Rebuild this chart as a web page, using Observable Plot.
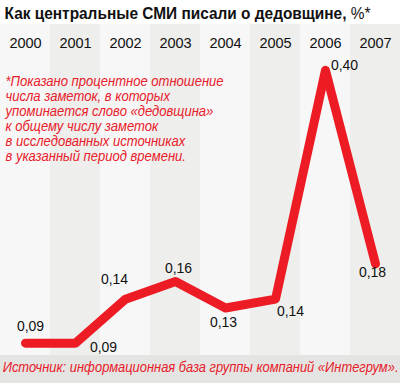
<!DOCTYPE html>
<html>
<head>
<meta charset="utf-8">
<script src="https://cdn.jsdelivr.net/npm/d3@7"></script>
<script src="https://cdn.jsdelivr.net/npm/@observablehq/plot@0.6"></script>
<style>
  html, body { margin: 0; padding: 0; background: #fff; }
  #wrap { width: 400px; height: 383px; overflow: hidden; font-family: 'Liberation Sans', Arial, sans-serif; }
  #title { height: 24px; overflow: visible; white-space: nowrap; }
  #title .inner { display: inline-block; transform: scaleX(0.907); transform-origin: 0 0; padding-left: 5px; font-size: 17px; line-height: 28px; font-weight: bold; color: #111; }
  #title span { font-weight: normal; }
  #chart svg { display: block; }
  #footer { height: 28px; background: #e4e4e2; white-space: nowrap; overflow: hidden; }
  #footer .inner { display: inline-block; transform: scaleX(0.89); transform-origin: 0 0; padding-left: 3px; color: #e8202a; font-style: italic; font-size: 14.5px; line-height: 25px; }
</style>
</head>
<body>
<div id="wrap">
  <div id="title"><div class="inner">Как центральные СМИ писали о дедовщине, <span>%*</span></div></div>
  <div id="chart"></div>
  <div id="footer"><div class="inner">Источник: информационная база группы компаний «Интегрум».</div></div>
</div>
<script>
const years = [2000, 2001, 2002, 2003, 2004, 2005, 2006, 2007];
const shares = [0.09, 0.09, 0.14, 0.16, 0.13, 0.14, 0.40, 0.18];
const note = "*Показано процентное отношение\nчисла заметок, в которых\nупоминается слово «дедовщина»\nк общему числу заметок\nв исследованных источниках\nв указанный период времени.";

const data = years.map((year, i) => ({year, share: shares[i]}));
const fmt = v => v.toFixed(2).replace(".", ",");

// label offsets (dx, dy) per year, layout only
const offsets = [[5, -17], [28, 4.5], [-11, -20], [3, -13], [-2, 15], [15, 12], [19, -4.5], [-3, 9]];

const labelMarks = years.map((yr, i) => Plot.text(data.filter(d => d.year === yr), {
  x: "year", y: "share", text: d => fmt(d.share),
  dx: offsets[i][0], dy: offsets[i][1],
  fontSize: 14, fill: "#111", lineAnchor: "middle"
}));

const chart = Plot.plot({
  width: 400,
  height: 331,
  marginLeft: 0, marginRight: 0, marginTop: 0, marginBottom: 0,
  style: {fontFamily: "'Liberation Sans', Arial, sans-serif", background: "transparent"},
  x: {type: "band", domain: years, padding: 0, axis: null},
  y: {domain: [0.076, 0.452], axis: null},
  marks: [
    Plot.cell(years, {x: d => d, fill: d => d % 2 ? "#eeeeec" : "#f7f7f7"}),
    Plot.text(years, {x: d => d, text: d => String(d), frameAnchor: "top", lineAnchor: "bottom", dy: 23, fontSize: 14.5, fill: "#111"}),
    Plot.text([note], {text: d => d, frameAnchor: "top-left", textAnchor: "start", lineAnchor: "top", dx: 5, dy: 51, fontSize: 14.5, lineHeight: 1.034, fill: "#e8202a", fontStyle: "italic"}),
    Plot.lineY(data, {x: "year", y: "share", stroke: "#ed1c24", strokeWidth: 9}),
    ...labelMarks
  ]
});
// condense the footnote horizontally, like the reference's narrow italic
d3.select(chart).selectAll("text")
  .filter(function() { return this.textContent.startsWith("*"); })
  .each(function() {
    const t = this.getAttribute("transform") || "";
    this.setAttribute("transform", (t + " scale(0.9,1)").trim());
  });
document.getElementById("chart").appendChild(chart);
</script>
</body>
</html>
